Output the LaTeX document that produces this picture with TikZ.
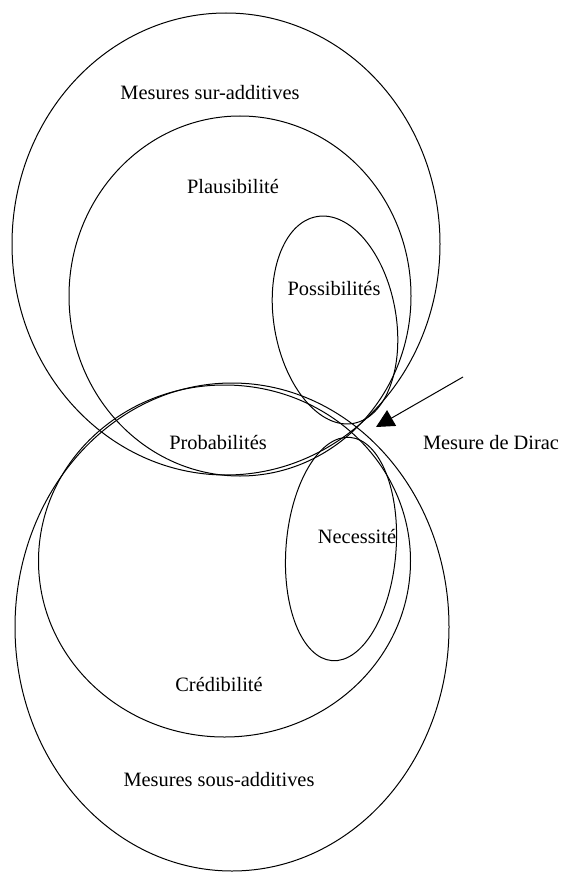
\documentclass[tikz,border=0pt]{standalone}
\usepackage{fontspec}
\setmainfont{Liberation Serif}
\usetikzlibrary{arrows.meta}

\begin{document}
\begin{tikzpicture}[x=0.5pt, y=-0.5pt, line width=0.5pt,
        lbl/.style={font=\fontsize{10.2}{12}\selectfont, inner sep=0pt}]
        \useasboundingbox (0, 0) rectangle (561, 872);

        % upper family
        \draw (226, 244) ellipse [x radius=214, y radius=231];
        \draw (240, 296) ellipse [x radius=171, y radius=180];
        \draw[rotate around={10:(335, 320)}] (335, 320) ellipse [x radius=61, y radius=105];

        % lower family
        \draw (232, 627) ellipse [x radius=217, y radius=244];
        \draw (224.5, 561) ellipse [x radius=186, y radius=176];
        \draw[rotate around={-4.6:(341, 549)}] (341, 549) ellipse [x radius=55, y radius=112];

        \node (surAdd) at (210, 93)[lbl] {Mesures sur-additives};
        \node (plaus) at (233, 187)[lbl] {Plausibilité};
        \node (poss) at (334, 289)[lbl] {Possibilités};
        \node (proba) at (218, 443)[lbl] {Probabilités};
        \node (dirac) at (491, 443)[lbl] {Mesure de Dirac};
        \node (necess) at (357, 537)[lbl] {Necessité};
        \node (cred) at (219, 684)[lbl] {Crédibilité};
        \node (sousAdd) at (219, 780)[lbl] {Mesures sous-additives};

        \coordinate (diracTail) at (463, 377);
        \coordinate (diracTip) at (376, 427);
        \draw[-{Triangle[length=9pt, width=9pt]}] (diracTail) -- (diracTip);
    \end{tikzpicture}
\end{document}
